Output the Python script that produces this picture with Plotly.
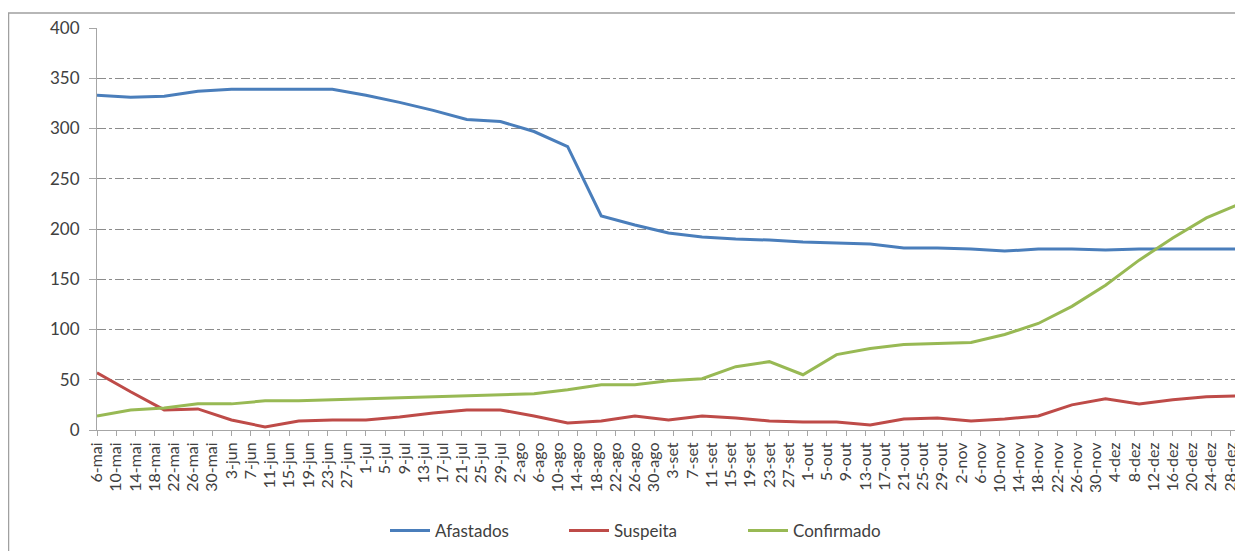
import plotly.graph_objects as go
from datetime import date

# Weekly observation dates (year assumed 2020)
week_dates = [
    "2020-05-06", "2020-05-13", "2020-05-20", "2020-05-27",
    "2020-06-03", "2020-06-10", "2020-06-17", "2020-06-24",
    "2020-07-01", "2020-07-08", "2020-07-15", "2020-07-22", "2020-07-29",
    "2020-08-05", "2020-08-12", "2020-08-19", "2020-08-26",
    "2020-09-02", "2020-09-09", "2020-09-16", "2020-09-23", "2020-09-30",
    "2020-10-07", "2020-10-14", "2020-10-21", "2020-10-28",
    "2020-11-04", "2020-11-11", "2020-11-18", "2020-11-25",
    "2020-12-02", "2020-12-09", "2020-12-16", "2020-12-23", "2020-12-30",
]

afastados = [333, 331, 332, 337, 339, 339, 339, 339, 333, 326, 318, 309, 307,
             297, 282, 213, 204, 196, 192, 190, 189, 187, 186, 185, 181,
             181, 180, 178, 180, 180, 179, 180, 180, 180, 180]

suspeita = [57, 38, 20, 21, 10, 3, 9, 10, 10, 13, 17, 20, 20,
            14, 7, 9, 14, 10, 14, 12, 9, 8, 8, 5, 11,
            12, 9, 11, 14, 25, 31, 26, 30, 33, 34]

confirmado = [14, 20, 22, 26, 26, 29, 29, 30, 31, 32, 33, 34, 35,
              36, 40, 45, 45, 49, 51, 63, 68, 55, 75, 81, 85,
              86, 87, 95, 106, 123, 144, 169, 191, 211, 225]

tick_labels = [
    "6-mai", "10-mai", "14-mai", "18-mai", "22-mai", "26-mai", "30-mai",
    "3-jun", "7-jun", "11-jun", "15-jun", "19-jun", "23-jun", "27-jun",
    "1-jul", "5-jul", "9-jul", "13-jul", "17-jul", "21-jul", "25-jul", "29-jul",
    "2-ago", "6-ago", "10-ago", "14-ago", "18-ago", "22-ago", "26-ago", "30-ago",
    "3-set", "7-set", "11-set", "15-set", "19-set", "23-set", "27-set",
    "1-out", "5-out", "9-out", "13-out", "17-out", "21-out", "25-out", "29-out",
    "2-nov", "6-nov", "10-nov", "14-nov", "18-nov", "22-nov", "26-nov", "30-nov",
    "4-dez", "8-dez", "12-dez", "16-dez", "20-dez", "24-dez", "28-dez",
]

month_num = {"mai": 5, "jun": 6, "jul": 7, "ago": 8, "set": 9,
             "out": 10, "nov": 11, "dez": 12}
tick_vals = []
for lab in tick_labels:
    d, m = lab.split("-")
    tick_vals.append(date(2020, month_num[m], int(d)).isoformat())

# page body has an 8px margin -> figure sized to fit the 1243x551 window
W, H = 1235, 543
ML, MR, MT, MB = 89, 3, 20, 121
PW, PH = W - ML - MR, H - MT - MB

FONT = "Lato"
TXT = "#404040"

fig = go.Figure()
series = [
    ("Afastados", afastados, "#4A7EBB"),
    ("Suspeita", suspeita, "#BE4B48"),
    ("Confirmado", confirmado, "#98B954"),
]
for name, vals, col in series:
    fig.add_trace(go.Scatter(
        x=week_dates, y=vals, mode="lines", name=name,
        line=dict(color=col, width=3),
    ))

fig.update_layout(
    width=W, height=H,
    margin=dict(l=ML, r=MR, t=MT, b=MB, autoexpand=False),
    paper_bgcolor="white", plot_bgcolor="white",
    font=dict(family=FONT, color=TXT),
    showlegend=True,
    legend=dict(
        orientation="h", xref="container", yref="container",
        x=377 / W, xanchor="left",
        y=1 - 523 / H, yanchor="middle",
        font=dict(size=17, color=TXT),
        itemwidth=40,
        entrywidth=124, entrywidthmode="pixels",
        traceorder="normal",
    ),
    xaxis=dict(
        type="date", automargin=False,
        range=["2020-05-06", "2020-12-30"],
        tickmode="array", tickvals=tick_vals, ticktext=tick_labels,
        tickangle=-90, tickfont=dict(size=16, color=TXT),
        ticks="outside", ticklen=5, tickcolor="#A6A6A6",
        showline=True, linecolor="#A6A6A6", linewidth=1,
        showgrid=False, zeroline=False,
    ),
    yaxis=dict(
        automargin=False,
        range=[0, 400], dtick=50, tick0=0,
        tickfont=dict(size=17, color=TXT),
        ticks="outside", ticklen=7, tickcolor="#A6A6A6",
        ticklabelstandoff=6,
        showline=True, linecolor="#A6A6A6", linewidth=1,
        showgrid=True, gridcolor="#8C8C8C", griddash="dashdot", gridwidth=1,
        zeroline=False,
    ),
)

# outer chart-area border
fig.add_shape(
    type="rect", xref="paper", yref="paper",
    x0=(0.5 - ML) / PW, x1=1.05,
    y0=-0.6, y1=(H - MB - 5) / PH,
    line=dict(color="#A0A0A0", width=1.5), fillcolor="rgba(0,0,0,0)",
    layer="below",
)

fig.write_html("out.html")
